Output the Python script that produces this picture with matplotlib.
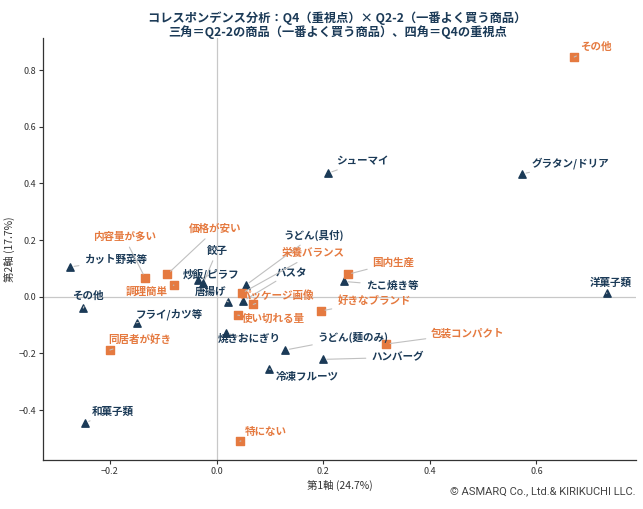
import matplotlib
matplotlib.use("Agg")
import matplotlib.pyplot as plt

plt.rcParams["font.family"] = ["Noto Sans CJK JP", "DejaVu Sans"]

NAVY = "#1b3a57"
ORANGE = "#e57a40"

# products (triangles): Q2-2
prod_names = ["カット野菜等", "その他", "フライ/カツ等", "和菓子類", "炒飯/ピラフ", "餃子",
              "唐揚げ", "うどん(具付)", "パスタ", "焼きおにぎり", "うどん(麺のみ)", "冷凍フルーツ",
              "ハンバーグ", "たこ焼き等", "シューマイ", "グラタン/ドリア", "洋菓子類"]
prod_x = [-0.275, -0.250, -0.150, -0.247, -0.034, -0.025, 0.022, 0.055, 0.050, 0.017,
          0.129, 0.099, 0.199, 0.239, 0.209, 0.573, 0.732]
prod_y = [0.105, -0.040, -0.092, -0.445, 0.059, 0.047, -0.018, 0.041, -0.015, -0.128,
          -0.188, -0.255, -0.221, 0.054, 0.436, 0.433, 0.012]

# attributes (squares): Q4
attr_names = ["その他", "内容量が多い", "価格が安い", "調理簡単", "同居者が好き", "栄養バランス",
              "パッケージ画像", "使い切れる量", "好きなブランド", "国内生産", "包装コンパクト", "特にない"]
attr_x = [0.671, -0.134, -0.092, -0.080, -0.200, 0.047, 0.069, 0.040, 0.196, 0.246, 0.318, 0.044]
attr_y = [0.846, 0.067, 0.080, 0.041, -0.188, 0.012, -0.027, -0.065, -0.050, 0.079, -0.167, -0.510]

# label offsets in pixels (layout only)
prod_off = [(46, 7), (5, 12), (33, 9), (28, 11), (13, 6), (14, 33), (-18, 10), (68, 50),
            (48, 29), (24, -6), (68, 13), (38, -8), (75, 2), (48, -4), (34, 12), (48, 11), (4, 11)]
attr_off = [(22, 10), (-21, 41), (48, 45), (-27, -7), (30, 10), (72, 40), (24, 9), (36, -4),
            (53, 10), (46, 12), (82, 11), (26, 9)]

fig = plt.figure(figsize=(6.43, 5.09), dpi=100)
ax = fig.add_axes([0.0669, 0.0963, 0.9222, 0.829])

ax.axhline(0, color="#c8c8c8", lw=0.9, zorder=0)
ax.axvline(0, color="#c8c8c8", lw=0.9, zorder=0)

ax.scatter(prod_x, prod_y, marker="^", s=28, color=NAVY, zorder=3)
ax.scatter(attr_x, attr_y, marker="s", s=28, color=ORANGE, zorder=3)

line_props = dict(arrowstyle="-", color="#c0c0c0", lw=0.8, shrinkA=2, shrinkB=3)
for name, x, y, off in zip(prod_names, prod_x, prod_y, prod_off):
    ax.annotate(name, (x, y), xytext=off, textcoords="offset pixels",
                ha="center", va="center", fontsize=7.6, fontweight="bold", color=NAVY,
                arrowprops=line_props, zorder=4)
for name, x, y, off in zip(attr_names, attr_x, attr_y, attr_off):
    ax.annotate(name, (x, y), xytext=off, textcoords="offset pixels",
                ha="center", va="center", fontsize=7.6, fontweight="bold", color=ORANGE,
                arrowprops=line_props, zorder=4)

ax.set_xlim(-0.3255, 0.787)
ax.set_ylim(-0.576, 0.913)
ax.set_xticks([-0.2, 0.0, 0.2, 0.4, 0.6])
ax.set_yticks([-0.4, -0.2, 0.0, 0.2, 0.4, 0.6, 0.8])
ax.tick_params(labelsize=6.5, colors="#333333", length=3, pad=2)
for side in ["top", "right"]:
    ax.spines[side].set_visible(False)
for side in ["left", "bottom"]:
    ax.spines[side].set_color("#333333")
    ax.spines[side].set_linewidth(0.9)

ax.set_xlabel("第1軸 (24.7%)", fontsize=7.5, color="#333333", labelpad=3)
ax.set_ylabel("第2軸 (17.7%)", fontsize=7.5, color="#333333")
ax.yaxis.set_label_coords(-0.047, 0.5)

fig.text(0.525, 0.978, "コレスポンデンス分析：Q4（重視点）× Q2-2（一番よく買う商品）\n"
         "三角＝Q2-2の商品（一番よく買う商品）、四角＝Q4の重視点",
         ha="center", va="top", fontsize=8.8, fontweight="bold", color=NAVY, linespacing=1.05)
fig.text(0.988, 0.034, "© ASMARQ Co., Ltd.& KIRIKUCHI LLC.", ha="right", va="center",
         fontsize=8, color="#444444", family=["Roboto", "DejaVu Sans"])

fig.savefig("out.png", dpi=100)
